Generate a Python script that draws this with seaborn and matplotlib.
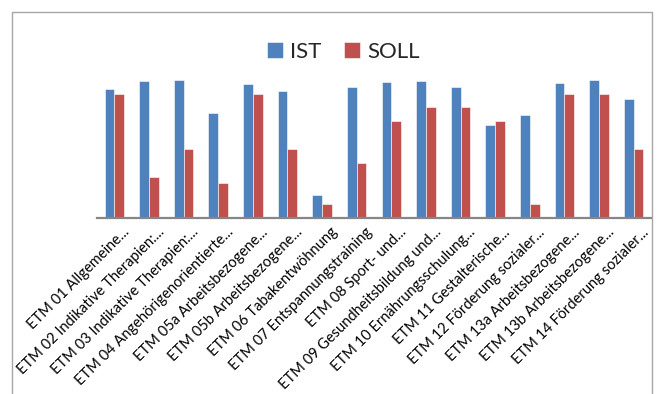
import matplotlib
matplotlib.use("Agg")
import matplotlib.pyplot as plt
from matplotlib.patches import Rectangle
from matplotlib.ticker import FixedLocator
from matplotlib.transforms import ScaledTranslation
import seaborn as sns
import pandas as pd

# Therapy modules (ETM) and their IST / SOLL shares in percent
categories = [
    "ETM 01 Allgemeine...",
    "ETM 02 Indikative Therapien:...",
    "ETM 03 Indikative Therapien:...",
    "ETM 04 Angehörigenorientierte...",
    "ETM 05a Arbeitsbezogene...",
    "ETM 05b Arbeitsbezogene...",
    "ETM 06 Tabakentwöhnung",
    "ETM 07 Entspannungstraining",
    "ETM 08 Sport- und...",
    "ETM 09 Gesundheitsbildung und...",
    "ETM 10 Ernährungsschulung...",
    "ETM 11 Gestalterische...",
    "ETM 12 Förderung sozialer...",
    "ETM 13a Arbeitsbezogene...",
    "ETM 13b Arbeitsbezogene...",
    "ETM 14 Förderung sozialer...",
]
ist = [93, 99.5, 100, 76, 97, 92, 16.5, 95, 98.5, 99.5, 95, 67, 74.5, 98, 100, 86]
soll = [90, 30, 50, 25, 90, 50, 10, 40, 70, 80, 80, 70, 10, 90, 90, 50]
series = ["IST", "SOLL"]
colors = ["#4F81BD", "#C0504D"]

df = pd.DataFrame({
    "Modul": categories * 2,
    "Wert": ist + soll,
    "Serie": [series[0]] * len(categories) + [series[1]] * len(categories),
})

sns.set_style("white")
plt.rcParams["font.family"] = ["Lato", "DejaVu Sans"]

fig = plt.figure(figsize=(6.64, 3.94), dpi=100)
ax = fig.add_axes([97 / 664, 1 - 218 / 394, (651 - 97) / 664, 152 / 394])

sns.barplot(data=df, x="Modul", y="Wert", hue="Serie", palette=colors,
            saturation=1, width=0.56, gap=0, errorbar=None, ax=ax,
            edgecolor="white", linewidth=0.4)

ax.set_xlim(-0.5, len(categories) - 0.5)
ax.set_ylim(0, 110)
ax.set_xlabel("")
ax.set_ylabel("")
ax.set_yticks([])

for side in ["top", "right", "left"]:
    ax.spines[side].set_visible(False)
ax.spines["bottom"].set_color("#868686")
ax.spines["bottom"].set_linewidth(1.6)

# tick marks sit between categories, labels at the category centres
ax.xaxis.set_minor_locator(FixedLocator([i - 0.5 for i in range(len(categories) + 1)]))
ax.tick_params(axis="x", which="minor", length=4, width=1.2, color="#868686", direction="out")
ax.tick_params(axis="x", which="major", length=0, pad=3)
ax.set_xticks(range(len(categories)))
ax.set_xticklabels(categories, rotation=45, ha="right", rotation_mode="anchor",
                   fontsize=10.5, color="black")
shift = ScaledTranslation(8 / 100, -3 / 100, fig.dpi_scale_trans)
for lab in ax.get_xticklabels():
    lab.set_transform(lab.get_transform() + shift)

ax.legend(loc="upper center", bbox_to_anchor=(343 / 664, 1 - 33 / 394),
          bbox_transform=fig.transFigure, ncol=2, frameon=False,
          fontsize=16, handlelength=0.75, handleheight=0.75,
          handletextpad=0.3, columnspacing=1.0, borderaxespad=0)

# chart frame
fig.patches.append(Rectangle((12 / 664, -0.2), (652 - 12) / 664, 1.2 - 12 / 394,
                             transform=fig.transFigure, fill=False,
                             edgecolor="#a6a6a6", linewidth=1.0))

fig.savefig("out.png", dpi=100)
